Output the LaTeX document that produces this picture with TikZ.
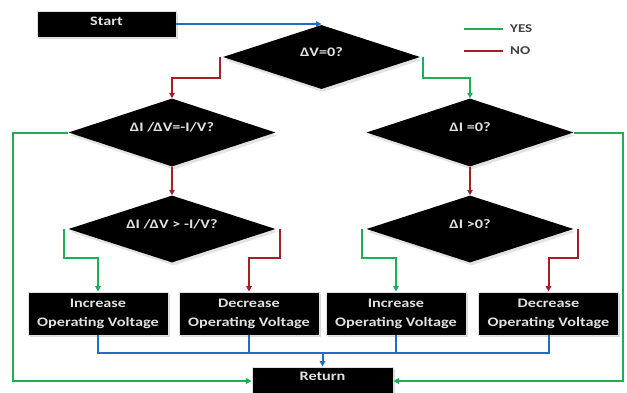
\documentclass[tikz,border=0pt]{standalone}
\usepackage{fontspec}
\setmainfont{Carlito}[FakeStretch=1.25]
\usetikzlibrary{shapes.geometric,arrows.meta,shadows}
\definecolor{cyes}{RGB}{30,175,85}
\definecolor{cno}{RGB}{165,30,40}
\definecolor{cflow}{RGB}{30,110,195}
\definecolor{ctext}{RGB}{225,225,225}
\newcommand{\nowidth}[1]{\makebox[0pt]{#1}}
\begin{document}
\begin{tikzpicture}[x=1pt,y=-1pt,
  txt/.style={font=\bfseries\fontsize{13}{19}\selectfont, text=ctext},
  box/.style={txt, rectangle, fill=black, draw=black!12, line width=0.8pt, align=center, inner sep=0pt,
    drop shadow={shadow xshift=1.5pt, shadow yshift=-2pt, fill=black!30}},
  dia/.style={txt, diamond, fill=black, inner sep=0pt, minimum width=207pt, text height=8pt, text depth=10pt,
    drop shadow={shadow xshift=1.5pt, shadow yshift=-3pt, fill=black!22}},
  tip/.style={-{Triangle[length=5.5pt,width=5.5pt]}},
  yesline/.style={cyes, line width=2pt},
  noline/.style={cno, line width=2pt},
  flowline/.style={cflow, line width=2pt},
  legtxt/.style={font=\bfseries\fontsize{12}{14}\selectfont, text=black!75, anchor=west, inner sep=0pt}
]
\useasboundingbox (0,0) rectangle (627,392);
\clip (0,0) rectangle (627,392);

% nodes
\node[box, minimum width=139pt, minimum height=26pt, text height=8pt, text depth=6pt] (start) at (106.5,24) {Start};
\node[dia, minimum width=197pt, minimum height=64pt] (d1) at (321.5,57) {\nowidth{ΔV=0?}};
\node[dia, minimum height=68pt] (d2) at (172,132.5) {\nowidth{ΔI /ΔV=-I/V?}};
\node[dia, minimum height=68pt] (d3) at (470,132.5) {\nowidth{ΔI =0?}};
\node[dia, minimum height=67pt] (d4) at (172,229) {\nowidth{ΔI /ΔV > -I/V?}};
\node[dia, minimum height=67pt] (d5) at (470,229) {\nowidth{ΔI >0?}};
\node[box, minimum width=140pt, minimum height=43pt] (inc1) at (98,313.5) {Increase\\Operating Voltage};
\node[box, minimum width=140pt, minimum height=43pt] (dec1) at (249,313.5) {Decrease\\Operating Voltage};
\node[box, minimum width=140pt, minimum height=43pt] (inc2) at (396,313.5) {Increase\\Operating Voltage};
\node[box, minimum width=140pt, minimum height=43pt] (dec2) at (548.5,313.5) {Decrease\\Operating Voltage};
\node[box, minimum width=141pt, minimum height=28pt, text height=8pt, text depth=9pt] (ret) at (322.5,381) {Return};
\coordinate (bj) at (322.5,352.5);

% legend
\coordinate (ly) at (464,29);
\coordinate (ln) at (464,51);
\draw[yesline] (ly) -- ++(39,0) coordinate (lye);
\node[legtxt] (lyes) at ([xshift=7pt]lye) {YES};
\draw[noline] (ln) -- ++(39,0) coordinate (lne);
\node[legtxt] (lno) at ([xshift=7pt]lne) {NO};

% connectors
\draw[flowline, tip] (start.east) -- (start.east -| d1.north);
\draw[noline, tip] ([xshift=-3pt]d1.west) -- ++(0,21) -| (d2.north);
\draw[yesline, tip] ([xshift=3pt]d1.east) -- ++(0,21) -| (d3.north);
\draw[noline, tip] (d2.south) -- (d4.north);
\draw[noline, tip] (d3.south) -- (d5.north);
\draw[yesline, tip] (d2.west) -- ++(-55.5,0) |- (ret.west);
\draw[yesline, tip] (d3.east) -- ++(49.5,0) |- (ret.east);
\draw[yesline, tip] ([xshift=-4pt]d4.west) -- ++(0,29) -| (inc1.north);
\draw[noline, tip] ([xshift=4pt]d4.east) -- ++(0,29) -| (dec1.north);
\draw[yesline, tip] ([xshift=-4pt]d5.west) -- ++(0,29) -| (inc2.north);
\draw[noline, tip] ([xshift=4pt]d5.east) -- ++(0,29) -| (dec2.north);
\draw[flowline] (inc1.south) |- (bj) -| (dec2.south);
\draw[flowline] (dec1.south) -- (dec1.south |- bj);
\draw[flowline] (inc2.south) -- (inc2.south |- bj);
\draw[flowline, tip] (bj) -- (ret.north);
\end{tikzpicture}
\end{document}
